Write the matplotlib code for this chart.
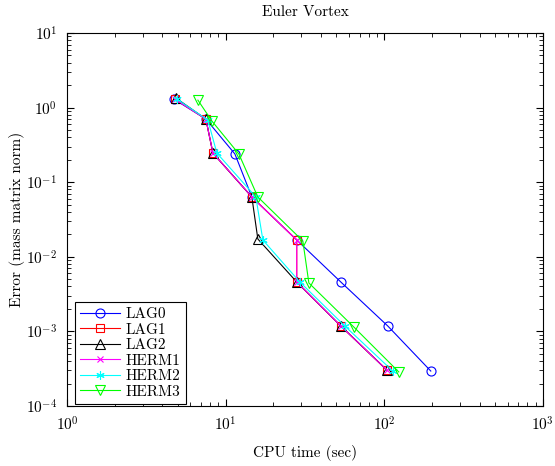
import matplotlib
matplotlib.use('Agg')
import matplotlib.pyplot as plt

plt.rcParams['font.family'] = 'serif'
plt.rcParams['font.serif'] = ['cmr10']
plt.rcParams['mathtext.fontset'] = 'cm'
plt.rcParams['axes.formatter.use_mathtext'] = True

# CPU time (sec) and error for each scheme
lag0_t = [4.72, 7.51, 11.45, 14.64, 28.1, 53.3, 105.4, 196.7]
lag0_e = [1.30, 0.703, 0.239, 0.0634, 0.0168, 0.00459, 0.00118, 0.000294]

lag1_t = [4.79, 7.51, 8.32, 14.64, 28.1, 28.1, 53.3, 103.8]
lag1_e = [1.30, 0.703, 0.246, 0.0634, 0.0168, 0.00459, 0.00118, 0.000304]

lag2_t = [4.86, 7.51, 8.32, 14.64, 15.97, 28.1, 53.3, 103.8]
lag2_e = [1.345, 0.703, 0.246, 0.0634, 0.01733, 0.00459, 0.00118, 0.000304]

herm1_t = [4.79, 7.51, 8.32, 14.64, 28.1, 28.1, 53.3, 103.8]
herm1_e = [1.30, 0.703, 0.246, 0.0634, 0.0168, 0.00459, 0.00118, 0.000304]

herm2_t = [4.93, 7.73, 8.81, 15.52, 17.18, 29.4, 56.5, 113.3]
herm2_e = [1.30, 0.682, 0.246, 0.0634, 0.0168, 0.00459, 0.00118, 0.000294]

herm3_t = [6.69, 8.20, 12.13, 15.97, 30.7, 33.5, 64.3, 123.6]
herm3_e = [1.26, 0.661, 0.239, 0.0634, 0.0163, 0.00446, 0.001146, 0.000286]

asterisk = (6, 2, 0)
series = [
    ('LAG0', lag0_t, lag0_e, '#0000ff', 'o', 6.5),
    ('LAG1', lag1_t, lag1_e, '#ff0000', 's', 5.5),
    ('LAG2', lag2_t, lag2_e, '#000000', '^', 7),
    ('HERM1', herm1_t, herm1_e, '#ff00ff', 'x', 5),
    ('HERM2', herm2_t, herm2_e, '#00ffff', asterisk, 6),
    ('HERM3', herm3_t, herm3_e, '#00ff00', 'v', 7),
]

fig = plt.figure(figsize=(5.55, 4.66), dpi=100)
ax = fig.add_axes([0.1207, 0.1288, 0.8573, 0.8003])

for name, t, e, c, m, ms in series:
    ax.loglog(t, e, color=c, marker=m, markersize=ms, markerfacecolor='none',
              markeredgecolor=c, markeredgewidth=0.8, linewidth=0.8, label=name)

ax.set_xlim(1, 1000)
ax.set_ylim(1e-4, 10)
ax.set_xlabel('CPU time (sec)', fontsize=11, labelpad=8)
ax.set_ylabel('Error (mass matrix norm)', fontsize=11, labelpad=1)
ax.set_title('Euler Vortex', fontsize=11, pad=12)
ax.tick_params(which='both', direction='in', top=True, right=True, labelsize=11)
ax.tick_params(which='major', length=5, pad=7)
ax.tick_params(which='minor', length=3)

leg = ax.legend(loc='lower left', bbox_to_anchor=(0.016, 0.005), borderaxespad=0,
                fontsize=11, fancybox=False, edgecolor='k', framealpha=1,
                handlelength=2.6, labelspacing=0.12, borderpad=0.35,
                handletextpad=0.4)
leg.get_frame().set_linewidth(0.8)

fig.savefig('out.png', dpi=100)
